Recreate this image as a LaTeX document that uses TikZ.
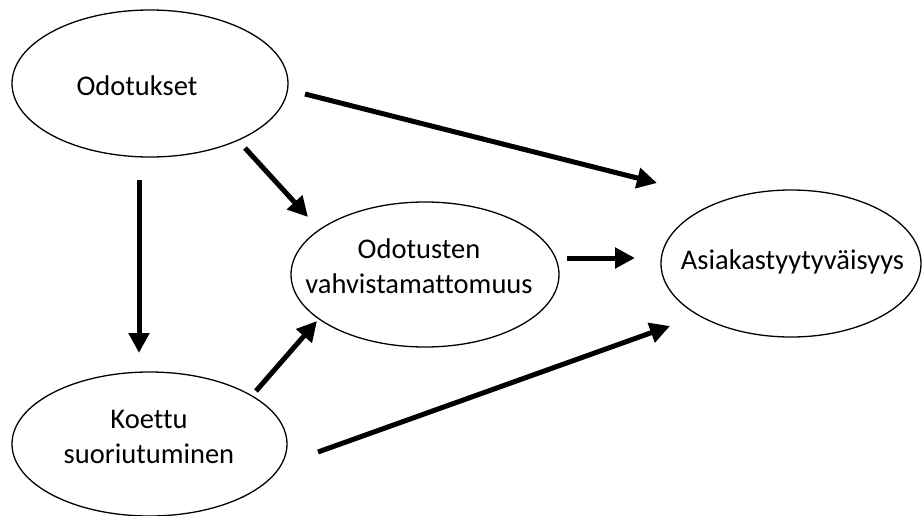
\documentclass[tikz,border=0pt]{standalone}
\usepackage{fontspec}
\setmainfont[Ligatures=NoCommon]{Carlito}
\usetikzlibrary{arrows.meta,shapes.geometric}
\begin{document}
\begin{tikzpicture}[x=1pt,y=-1pt,
  ell/.style={draw=black,line width=1.3pt,ellipse,inner sep=0pt},
  lbl/.style={align=center,font=\fontsize{28.5}{35}\selectfont,inner sep=0pt},
  arr/.style={line width=5pt,-{Triangle[length=20pt,width=20pt]}}]
\useasboundingbox (0,0) rectangle (922,515);
\node[ell,minimum width=276pt,minimum height=147pt] (e1) at (150,83.5) {};
\node[ell,minimum width=268pt,minimum height=145pt] (e2) at (425,274.5) {};
\node[ell,minimum width=260pt,minimum height=147pt] (e3) at (791,263.5) {};
\node[ell,minimum width=275pt,minimum height=144pt] (e4) at (149.5,444) {};
\node[lbl] (t1) at (137,86) {Odotukset};
\node[lbl] (t2) at (419,266) {Odotusten\\vahvistamattomuus};
\node[lbl] (t3) at (792.5,262) {Asiakastyytyväisyys};
\node[lbl] (t4) at (149,437) {Koettu\\suoriutuminen};
\coordinate (a1s) at (305,94);   \coordinate (a1e) at (657,183);
\coordinate (a2s) at (245,148);  \coordinate (a2e) at (308,217);
\coordinate (a3s) at (139,180);  \coordinate (a3e) at (139,353);
\coordinate (a4s) at (256,391);  \coordinate (a4e) at (317,321);
\coordinate (a5s) at (318,452);  \coordinate (a5e) at (670,326);
\coordinate (a6s) at (567,258);  \coordinate (a6e) at (635,258);
\draw[arr] (a1s) -- (a1e);
\draw[arr] (a2s) -- (a2e);
\draw[arr] (a3s) -- (a3e);
\draw[arr] (a4s) -- (a4e);
\draw[arr] (a5s) -- (a5e);
\draw[arr] (a6s) -- (a6e);
\end{tikzpicture}
\end{document}
